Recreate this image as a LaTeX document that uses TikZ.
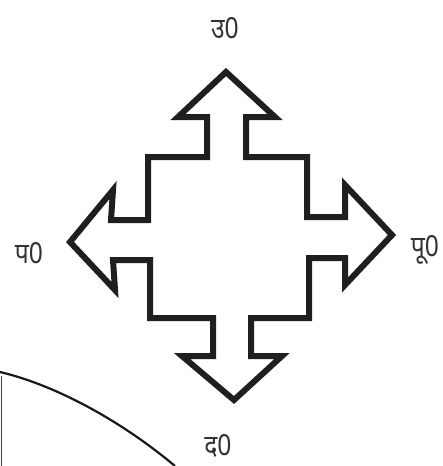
\documentclass[tikz,border=0pt]{standalone}
\usepackage{fontspec}
\newfontfamily\deva[Script=Devanagari]{Noto Sans}
\begin{document}
\begin{tikzpicture}[x=1pt,y=-1pt,
  outline/.style={draw=black!88,line width=6pt,line join=miter,miter limit=10},
  label/.style={font=\deva\fontsize{29}{29}\selectfont,anchor=base,inner sep=0pt,text depth=0pt,text=black!80,xscale=0.85},
  thinline/.style={draw=black!90,line width=2.2pt}]
\useasboundingbox (0,0) rectangle (442,466);
\fill[white] (0,0) rectangle (442,466);
% compass outline
\draw[outline] (226,72) -- (275,117) -- (246,117) -- (246,157) -- (307,157) -- (307,217)
  -- (345,217) -- (345,185) -- (392,235) -- (345,285) -- (345,258) -- (309,258)
  -- (309,318) -- (251,318) -- (251,356) -- (282,356) -- (234,400) -- (182,356)
  -- (213,356) -- (213,318) -- (150,318) -- (150,260) -- (113,260) -- (115,290)
  -- (70,242) -- (113,190) -- (111,220) -- (148,220) -- (148,157) -- (207,157)
  -- (207,117) -- (178,117) -- cycle;
% labels
\node[label] (n) at (225,38) {उ0};
\node[label] (e) at (425,256) {पू0};
\node[label] (s) at (218,455) {द0};
\node[label] (w) at (29,263) {प0};
% curve and edge at bottom left
\coordinate (c1) at (0,372);
\coordinate (c2) at (175,466);
\draw[thinline] (c1) .. controls (55,385) and (120,420) .. (c2);
\coordinate (v1) at (1.5,376);
\coordinate (v2) at (1.5,466);
\draw[draw=black!75,line width=1.5pt] (v1) -- (v2);
\end{tikzpicture}
\end{document}
